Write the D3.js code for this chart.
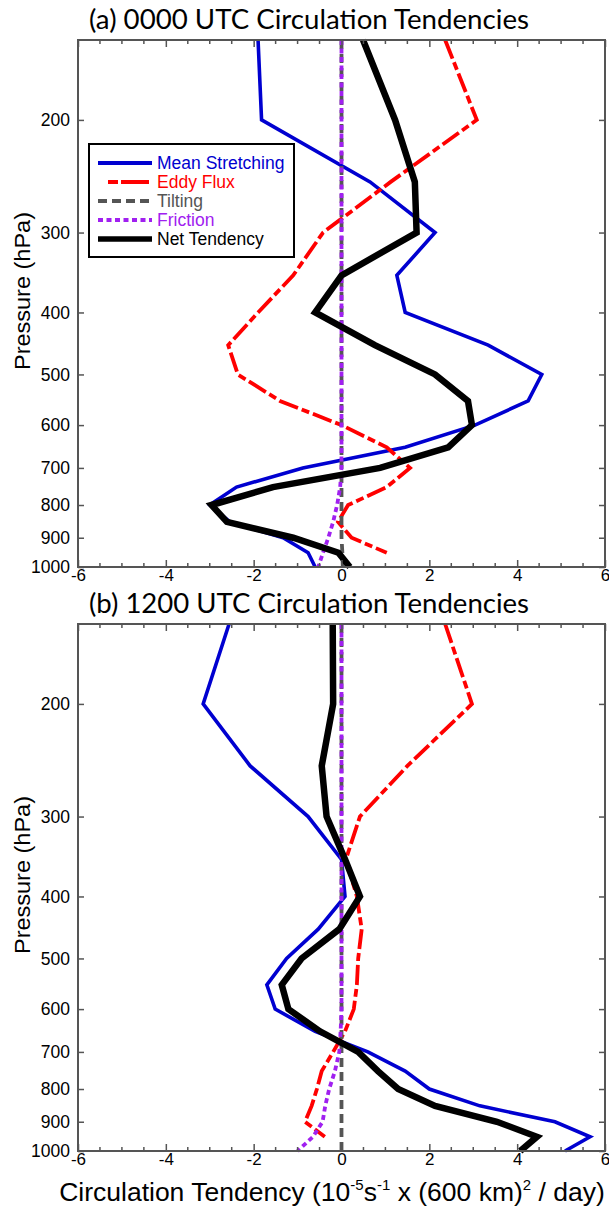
<!DOCTYPE html>
<html><head><meta charset="utf-8">
<script src="https://cdn.jsdelivr.net/npm/d3@7"></script>
<style>body{margin:0;background:#fff}svg{display:block}</style>
</head><body>
<script>
const levels = [150,200,250,300,350,400,450,500,550,600,650,700,750,800,850,900,950,1000];
const yTicks = [200,300,400,500,600,700,800,900,1000];
const xTicks = [-6,-4,-2,0,2,4,6];

// Panel (a) 0000 UTC
const a_stretch = [-1.9,-1.82,0.65,2.13,1.26,1.45,3.34,4.56,4.25,3.04,1.45,-0.88,-2.39,-3.0,-2.54,-1.33,-0.76,-0.6];
const a_eddy    = [2.36,3.08,1.12,-0.42,-1.1,-1.9,-2.58,-2.36,-1.4,0.0,1.03,1.56,1.03,0.15,-0.08,0.23,1.03,null];
const a_tilt    = [0,0,0,0,0,0,0,0,0,0,0,0,0,0,0,0,0.02,0.03];
const a_frict   = [0,0,0,0,0,0,0,0,0,0,0,0,-0.03,-0.1,-0.19,-0.3,-0.42,-0.53];
const a_net     = [0.49,1.22,1.67,1.71,0.0,-0.6,0.76,2.13,2.88,2.97,2.43,0.88,-1.56,-2.96,-2.61,-1.1,-0.07,0.19];

// Panel (b) 1200 UTC
const b_stretch = [-2.56,-3.15,-2.08,-0.76,0.0,0.08,-0.53,-1.25,-1.7,-1.51,-0.6,0.6,1.45,2.0,3.15,4.86,5.66,5.09];
const b_eddy    = [2.36,2.97,1.5,0.42,0.1,0.35,0.46,0.38,0.35,0.28,0.08,-0.19,-0.45,-0.56,-0.68,-0.83,-0.38,null];
const b_tilt    = [0,0,0,0,0,0,0,0,0,0,0,0,0,0,0,0,0,0];
const b_frict   = [0,0,0,0,0,0,0,0,0,0,-0.02,-0.05,-0.15,-0.28,-0.37,-0.43,-0.65,-1.0];
const b_net     = [-0.2,-0.19,-0.45,-0.34,0.08,0.42,-0.05,-0.91,-1.36,-1.21,-0.49,0.38,0.83,1.29,2.13,3.54,4.45,4.07];

const legendNames = ["Mean Stretching","Eddy Flux","Tilting","Friction","Net Tendency"];

const W = 609, H = 1209;
const svg = d3.select("body").append("svg").attr("width", W).attr("height", H);
const SANS = "'Liberation Sans', Arial, sans-serif";

const styles = [
  {color:"#0000d0", width:3.6, dash:null},
  {color:"#ff0000", width:3.8, dash:"20,4,8,4"},
  {color:"#555555", width:3.8, dash:"9,5"},
  {color:"#a020f0", width:3.8, dash:"5,3.5"},
  {color:"#000000", width:6.5, dash:null}
];

const x = d3.scaleLinear().domain([-6,6]).range([78,605]);

function panel(top, title, series, withLegend) {
  const bottom = top + 527;
  const y = d3.scaleLog().domain([150,1000]).range([top, bottom]);
  const g = svg.append("g");

  g.append("text").attr("x", 89).attr("y", top - 11)
    .attr("font-family","Lato, 'Open Sans', sans-serif").attr("font-size", 27).attr("fill","#000")
    .attr("textLength", 440).attr("lengthAdjust","spacingAndGlyphs")
    .text(title);

  series.forEach((vals, i) => {
    const line = d3.line()
      .defined(d => d.v !== null)
      .x(d => x(d.v)).y(d => y(d.p));
    const data = levels.map((p,k) => ({p, v: vals[k]}));
    g.append("path").datum(data)
      .attr("d", line)
      .attr("fill","none")
      .attr("stroke", styles[i].color)
      .attr("stroke-width", styles[i].width)
      .attr("stroke-dasharray", styles[i].dash)
      .attr("stroke-linejoin","miter");
  });

  g.append("rect").attr("x", 78).attr("y", top).attr("width", 605-78).attr("height", bottom-top)
    .attr("fill","none").attr("stroke","#555").attr("stroke-width",2);

  const axB = d3.axisBottom(x).tickValues(xTicks).tickSize(-7).tickFormat(d3.format("d"));
  const gb = g.append("g").attr("transform",`translate(0,${bottom})`).call(axB);
  gb.select(".domain").remove();
  gb.selectAll(".tick line").attr("stroke","#555").attr("stroke-width",1.5);
  gb.selectAll(".tick text").attr("font-family",SANS)
    .attr("font-size",17).attr("fill","#000").attr("dy","0.6em").attr("y",4)
    .text(d => d < 0 ? "-" + Math.abs(d) : d);
  const minor = d3.range(-6, 6.01, 0.5).filter(v => Math.abs(v % 2) > 1e-9);
  g.selectAll(".mnb").data(minor).enter().append("line")
    .attr("x1", d=>x(d)).attr("x2", d=>x(d)).attr("y1", bottom).attr("y2", bottom-4)
    .attr("stroke","#555").attr("stroke-width",1.5);
  const axT = d3.axisTop(x).tickValues(xTicks).tickSize(-7).tickFormat("");
  const gt = g.append("g").attr("transform",`translate(0,${top})`).call(axT);
  gt.select(".domain").remove();
  gt.selectAll(".tick line").attr("stroke","#555").attr("stroke-width",1.5);
  g.selectAll(".mnt").data(minor).enter().append("line")
    .attr("x1", d=>x(d)).attr("x2", d=>x(d)).attr("y1", top).attr("y2", top+4)
    .attr("stroke","#555").attr("stroke-width",1.5);

  const axL = d3.axisLeft(y).tickValues(yTicks).tickSize(-6).tickFormat(d3.format("d"));
  const gl = g.append("g").attr("transform","translate(78,0)").call(axL);
  gl.select(".domain").remove();
  gl.selectAll(".tick line").attr("stroke","#555").attr("stroke-width",1.5);
  gl.selectAll(".tick text").attr("font-family",SANS)
    .attr("font-size",17.5).attr("fill","#000").attr("x",-8);
  const axR = d3.axisRight(y).tickValues(yTicks).tickSize(-6).tickFormat("");
  const gr = g.append("g").attr("transform","translate(605,0)").call(axR);
  gr.select(".domain").remove();
  gr.selectAll(".tick line").attr("stroke","#555").attr("stroke-width",1.5);

  g.append("text").attr("transform",`translate(30,${top+251}) rotate(-90)`)
    .attr("text-anchor","middle").attr("font-family",SANS)
    .attr("font-size",22).attr("fill","#000")
    .attr("textLength",158).attr("lengthAdjust","spacingAndGlyphs")
    .text("Pressure (hPa)");

  if (withLegend) {
    const lg = g.append("g");
    lg.append("rect").attr("x",89).attr("y",144).attr("width",205).attr("height",113)
      .attr("fill","#fff").attr("stroke","#000").attr("stroke-width",2);
    legendNames.forEach((n,i) => {
      const yy = 163 + i*19;
      lg.append("line").attr("x1",98).attr("x2",152).attr("y1",yy).attr("y2",yy)
        .attr("stroke", styles[i].color).attr("stroke-width", i===4 ? 5.5 : 4)
        .attr("stroke-dasharray", i===1 ? "0,10,10,3,28,10" : styles[i].dash);
      lg.append("text").attr("x",157).attr("y",yy+6).attr("font-family",SANS)
        .attr("font-size",17.5).attr("fill", styles[i].color).text(n);
    });
  }
}

panel(40, "(a) 0000 UTC Circulation Tendencies", [a_stretch,a_eddy,a_tilt,a_frict,a_net], true);
panel(624, "(b) 1200 UTC Circulation Tendencies", [b_stretch,b_eddy,b_tilt,b_frict,b_net], false);

const xl = svg.append("text").attr("x", 332).attr("y", 1201).attr("text-anchor","middle")
  .attr("font-family",SANS).attr("font-size",26.5).attr("fill","#000");
xl.append("tspan").text("Circulation Tendency (10");
xl.append("tspan").attr("font-size",15).attr("dy",-11).text("-5");
xl.append("tspan").attr("dy",11).text("s");
xl.append("tspan").attr("font-size",15).attr("dy",-11).text("-1");
xl.append("tspan").attr("dy",11).text(" x (600 km)");
xl.append("tspan").attr("font-size",15).attr("dy",-11).text("2");
xl.append("tspan").attr("dy",11).text(" / day)");
</script>
</body></html>
